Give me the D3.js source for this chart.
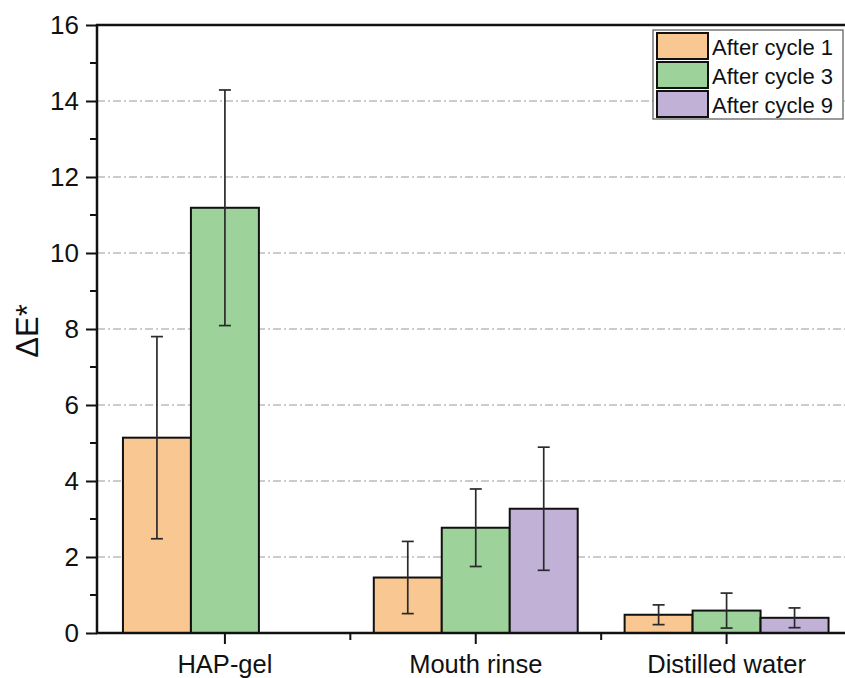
<!DOCTYPE html>
<html>
<head>
<meta charset="utf-8">
<script src="https://cdn.jsdelivr.net/npm/d3@7"></script>
<style>
  body { margin: 0; background: #fff; }
  text { font-family: Arial, "Liberation Sans", sans-serif; fill: #111; }
</style>
</head>
<body>
<div id="chart"></div>
<script>
// data
var groups = ["HAP-gel", "Mouth rinse", "Distilled water"];
var seriesNames = ["After cycle 1", "After cycle 3", "After cycle 9"];
var meanCycle1 = [5.14, 1.46, 0.48];
var meanCycle3 = [11.19, 2.77, 0.59];
var meanCycle9 = [null, 3.27, 0.40];
var errCycle1 = [2.66, 0.95, 0.26];
var errCycle3 = [3.1, 1.02, 0.46];
var errCycle9 = [null, 1.62, 0.26];
var yTicks = [0, 2, 4, 6, 8, 10, 12, 14, 16];
var colors = ["#f9c792", "#9dd39a", "#c2b1d7"];

var svgWidth = 845, svgHeight = 678;
var margin = { top: 25, right: -7, bottom: 45, left: 97 };
var width = svgWidth - margin.left - margin.right;
var height = svgHeight - margin.top - margin.bottom;

var svg = d3.select("#chart").append("svg")
  .attr("width", svgWidth)
  .attr("height", svgHeight);

var chartGroup = svg.append("g")
  .attr("transform", `translate(${margin.left}, ${margin.top})`);

var x0 = d3.scaleBand().domain(groups).range([2.5, width]).padding(0);
var x1 = d3.scaleBand().domain(seriesNames)
  .range([0, x0.bandwidth() * 0.813]);
var y = d3.scaleLinear().domain([0, 16]).range([height, 0]);

// grid lines
chartGroup.selectAll(".grid")
  .data(yTicks.filter(d => d > 0 && d < 16))
  .enter().append("line")
  .attr("x1", 0).attr("x2", width)
  .attr("y1", d => y(d)).attr("y2", d => y(d))
  .attr("stroke", "#9a9a9a")
  .attr("stroke-width", 1.2)
  .attr("stroke-dasharray", "8,3,2,3");

// bars
var means = [meanCycle1, meanCycle3, meanCycle9];
var errs = [errCycle1, errCycle3, errCycle9];
var rows = [];
groups.forEach(function(g, gi) {
  seriesNames.forEach(function(s, si) {
    if (means[si][gi] != null) {
      rows.push({ group: g, series: s, idx: si, v: means[si][gi], e: errs[si][gi] });
    }
  });
});

var off = (x0.bandwidth() - x1.range()[1]) / 2;

chartGroup.selectAll(".bar")
  .data(rows)
  .enter().append("rect")
  .attr("x", d => x0(d.group) + off + x1(d.series))
  .attr("y", d => y(d.v))
  .attr("width", x1.bandwidth())
  .attr("height", d => y(0) - y(d.v))
  .attr("fill", d => colors[d.idx])
  .attr("stroke", "#111")
  .attr("stroke-width", 2);

// error bars
var eb = chartGroup.selectAll(".err")
  .data(rows)
  .enter().append("g")
  .attr("stroke", "#2a2a2a")
  .attr("stroke-width", 1.7);
eb.append("line")
  .attr("x1", d => x0(d.group) + off + x1(d.series) + x1.bandwidth() / 2)
  .attr("x2", d => x0(d.group) + off + x1(d.series) + x1.bandwidth() / 2)
  .attr("y1", d => y(d.v + d.e))
  .attr("y2", d => y(d.v - d.e));
[1, -1].forEach(function(sign) {
  eb.append("line")
    .attr("x1", d => x0(d.group) + off + x1(d.series) + x1.bandwidth() / 2 - 6)
    .attr("x2", d => x0(d.group) + off + x1(d.series) + x1.bandwidth() / 2 + 6)
    .attr("y1", d => y(d.v + sign * d.e))
    .attr("y2", d => y(d.v + sign * d.e));
});

// axes
var leftAxis = d3.axisLeft(y).tickValues(yTicks).tickSize(11).tickPadding(7);
var gy = chartGroup.append("g").call(leftAxis);
gy.select(".domain").remove();
gy.selectAll("line").attr("stroke", "#111").attr("stroke-width", 2);
gy.selectAll("text").attr("font-size", 26).style("font-family", "Arial, 'Liberation Sans', sans-serif");

// minor y ticks
chartGroup.selectAll(".minor")
  .data(d3.range(1, 16, 2))
  .enter().append("line")
  .attr("x1", -7).attr("x2", 0)
  .attr("y1", d => y(d)).attr("y2", d => y(d))
  .attr("stroke", "#111").attr("stroke-width", 2);

var bottomAxis = d3.axisBottom(x0).tickSize(11).tickPadding(11);
var gx = chartGroup.append("g")
  .attr("transform", `translate(0, ${height})`)
  .call(bottomAxis);
gx.select(".domain").remove();
gx.selectAll("line").attr("stroke", "#111").attr("stroke-width", 2);
gx.selectAll("text").attr("font-size", 25.5).style("font-family", "Arial, 'Liberation Sans', sans-serif");

// minor x ticks at group boundaries
chartGroup.selectAll(".minorx")
  .data(groups.slice(1))
  .enter().append("line")
  .attr("x1", d => x0(d)).attr("x2", d => x0(d))
  .attr("y1", height).attr("y2", height + 7)
  .attr("stroke", "#111").attr("stroke-width", 2);

// frame
chartGroup.append("line").attr("x1", 0).attr("x2", 0)
  .attr("y1", -1).attr("y2", height + 1)
  .attr("stroke", "#111").attr("stroke-width", 2.5);
chartGroup.append("line").attr("x1", -1).attr("x2", width)
  .attr("y1", height).attr("y2", height)
  .attr("stroke", "#111").attr("stroke-width", 2.5);
chartGroup.append("line").attr("x1", -1).attr("x2", width)
  .attr("y1", 0).attr("y2", 0)
  .attr("stroke", "#111").attr("stroke-width", 2.5);

// y axis title
svg.append("text")
  .attr("transform", "translate(38, 331) rotate(-90)")
  .attr("text-anchor", "middle")
  .attr("font-size", 31)
  .text("ΔE*");

// legend
var legend = svg.append("g").attr("transform", "translate(653, 30)");
legend.append("rect")
  .attr("width", 190).attr("height", 89)
  .attr("fill", "#fff").attr("stroke", "#555").attr("stroke-width", 1.2);
var li = legend.selectAll(".li")
  .data(seriesNames)
  .enter().append("g")
  .attr("transform", (d, i) => `translate(4, ${3 + i * 29})`);
li.append("rect")
  .attr("width", 51).attr("height", 26)
  .attr("fill", (d, i) => colors[i])
  .attr("stroke", "#111").attr("stroke-width", 2);
li.append("text")
  .attr("x", 55).attr("y", 22)
  .attr("font-size", 22)
  .text(d => d);
</script>
</body>
</html>
